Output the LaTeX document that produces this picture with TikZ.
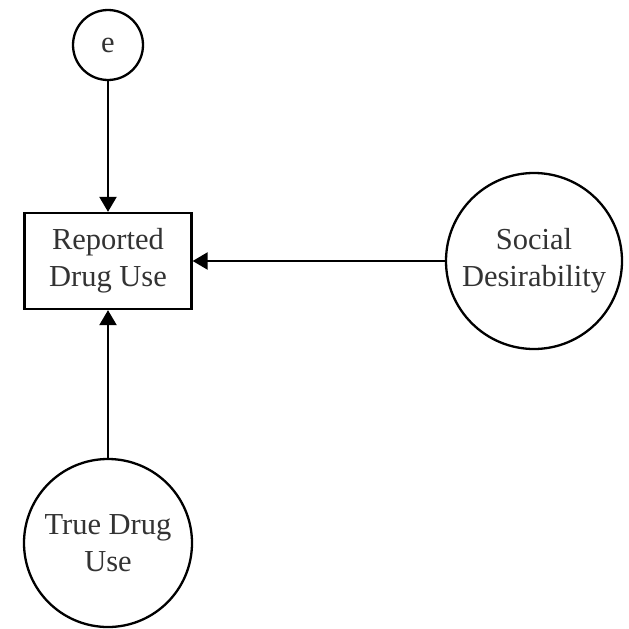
\documentclass[tikz,border=0pt]{standalone}
\usepackage{fontspec}
\setmainfont{Liberation Serif}
\usetikzlibrary{arrows.meta}
\begin{document}
\begin{tikzpicture}[x=1pt,y=-1pt,
  every node/.style={font=\fontsize{30.5}{37}\selectfont, align=center, text=black!80, inner sep=0pt},
  latent/.style={draw=black, circle, line width=2.3pt},
  observed/.style={draw=black, rectangle, line width=2.3pt, minimum width=167pt, minimum height=96pt},
  path/.style={line width=2.3pt, -{Triangle[length=15pt,width=17pt]}}
]
\useasboundingbox[fill=white] (0,0) rectangle (629,629);

\node[latent, minimum size=70pt] (err) at (108,45) {e};
\node[observed] (rep) at (108,261) {Reported\\Drug Use};
\node[latent, minimum size=176pt] (soc) at (534,261) {Social\\Desirability};
\node[latent, minimum size=168pt] (tru) at (108,543) {True Drug\\Use};

\draw[path] (err) -- (rep);
\draw[path] (soc) -- (rep);
\draw[path] (tru) -- (rep);
\end{tikzpicture}
\end{document}
